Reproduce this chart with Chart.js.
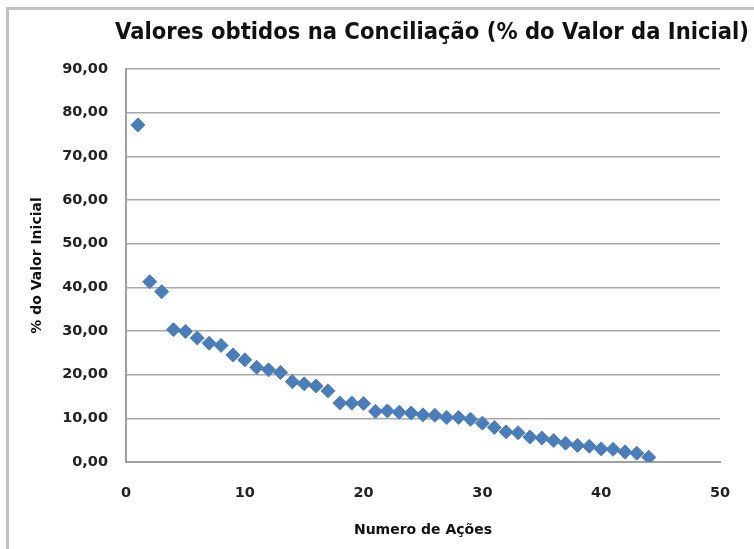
<!DOCTYPE html>
<html>
<head>
<meta charset="utf-8">
<script src="https://cdn.jsdelivr.net/npm/chart.js@4"></script>
<style>
  html, body { margin: 0; padding: 0; background: #fff; overflow: hidden; }
  #wrap { position: relative; width: 754px; height: 549px; }
  #frame { position: absolute; left: 6px; top: 7px; right: -10px; bottom: -10px;
           border-left: 3px solid #c0c0c0; border-top: 3px solid #c0c0c0; }
  #myChart { position: absolute; left: 0; top: 0; }
</style>
</head>
<body>
<div id="wrap">
  <div id="frame"></div>
  <canvas id="myChart" width="754" height="549"></canvas>
</div>
<script>
// data
const acoes = [1,2,3,4,5,6,7,8,9,10,11,12,13,14,15,16,17,18,19,20,21,22,
               23,24,25,26,27,28,29,30,31,32,33,34,35,36,37,38,39,40,41,42,43,44];
const percentual = [77.2,41.3,39.0,30.3,29.9,28.4,27.2,26.7,24.5,23.4,21.7,21.1,20.5,18.4,
                    17.9,17.4,16.3,13.5,13.5,13.4,11.6,11.7,11.4,11.2,10.8,10.7,10.2,10.2,
                    9.8,8.9,7.9,6.9,6.7,5.7,5.5,4.9,4.3,3.8,3.6,3.0,2.9,2.3,2.0,1.1];
const xTicks = [0, 10, 20, 30, 40, 50];
const yTicks = [0, 10, 20, 30, 40, 50, 60, 70, 80, 90];

const chartTitle = 'Valores obtidos na Conciliação (% do Valor da Inicial)';
const xTitle = 'Numero de Ações';
const yTitle = '% do Valor Inicial';

Chart.defaults.font.family = "'DejaVu Sans', sans-serif";
Chart.defaults.color = '#222';

const points = acoes.map((a, i) => ({ x: a, y: percentual[i] }));

// title is a bit wider than the plot, so draw it ourselves (squeezed like the narrow original font)
const wideTitle = {
  id: 'wideTitle',
  afterDraw(chart) {
    const { ctx, chartArea } = chart;
    ctx.save();
    ctx.font = "bold 22.4px 'DejaVu Sans', sans-serif";
    ctx.fillStyle = '#111';
    ctx.textAlign = 'center';
    ctx.textBaseline = 'middle';
    ctx.fillText(chartTitle, (chartArea.left + chartArea.right) / 2 + 9, 33, 634);
    ctx.restore();
  }
};

// setup
const data = {
  datasets: [{
    label: yTitle,
    data: points,
    pointStyle: 'rectRot',
    pointRadius: 7,
    pointHoverRadius: 7,
    backgroundColor: '#4a7ebb',
    borderColor: '#4a7ebb',
    borderWidth: 1,
    showLine: false
  }]
};

// config
const config = {
  type: 'scatter',
  data,
  plugins: [wideTitle],
  options: {
    responsive: false,
    animation: false,
    events: [],
    layout: { padding: { left: 29, top: 69, right: 34, bottom: 0 } },
    plugins: {
      legend: { display: false },
      tooltip: { enabled: false },
      title: { display: false }
    },
    scales: {
      x: {
        type: 'linear',
        min: xTicks[0],
        max: xTicks[xTicks.length - 1],
        afterBuildTicks: s => { s.ticks = xTicks.map(v => ({ value: v })); },
        afterFit: s => { s.height = 87; },
        grid: { display: false, drawTicks: false },
        border: { display: true, color: '#a0a0a0', width: 2 },
        ticks: { padding: 23, font: { size: 14.5, weight: 'bold' } },
        title: {
          display: true,
          text: xTitle,
          color: '#111',
          font: { size: 14, weight: 'bold' },
          padding: { top: 0, bottom: 10 }
        }
      },
      y: {
        min: yTicks[0],
        max: yTicks[yTicks.length - 1],
        afterBuildTicks: s => { s.ticks = yTicks.map(v => ({ value: v })); },
        afterFit: s => { s.width = 97; },
        grid: { color: '#a8a8a8', lineWidth: 1.5, drawTicks: false },
        border: { display: true, color: '#a0a0a0', width: 2 },
        ticks: {
          padding: 18,
          font: { size: 14.5, weight: 'bold' },
          callback: v => v.toFixed(2).replace('.', ',')
        },
        title: {
          display: true,
          text: yTitle,
          color: '#111',
          font: { size: 14, weight: 'bold' },
          padding: 0
        }
      }
    }
  }
};

// render init block
const myChart = new Chart(document.getElementById('myChart'), config);
</script>
</body>
</html>
